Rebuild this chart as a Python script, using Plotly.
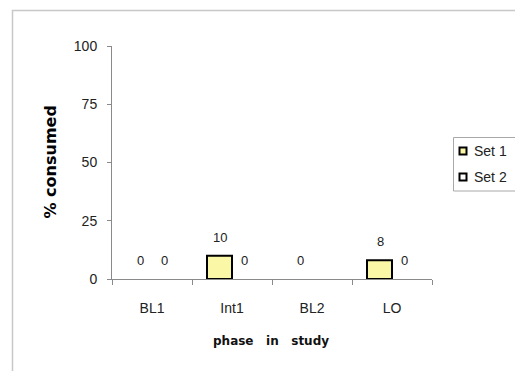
import plotly.graph_objects as go

phases = ["BL1", "Int1", "BL2", "LO"]
set1 = [0, 10, 0, 8]
set2 = [0, 0, None, 0]
y_ticks = [0, 25, 50, 75, 100]
series_names = ["Set 1", "Set 2"]
series_fill = ["#FAF7A6", "white"]

FONT = "Liberation Sans, Arial, sans-serif"
AXIS_GREY = "#8a8a8a"
W, H = 515, 371
M_L, M_R, M_T, M_B = 112, 83, 46, 92
PW, PH = W - M_L - M_R, H - M_T - M_B


def px_x(px):
    """figure pixel column -> paper x"""
    return (px - M_L) / PW


def px_y(py):
    """figure pixel row -> paper y"""
    return (H - M_B - py) / PH


fig = go.Figure()
for name, vals, fill in zip(series_names, (set1, set2), series_fill):
    # no outline on empty (zero) bars
    widths = [2 if (v or 0) > 0 else 0 for v in vals]
    fig.add_trace(go.Bar(name=name, x=phases, y=vals, showlegend=False,
                         marker=dict(color=fill, line=dict(color="black", width=widths))))

annotations = []
# value labels above each bar (Set 1 left, Set 2 right of category centre)
for values, shift in ((set1, -12), (set2, 12)):
    for cat, v in zip(phases, values):
        if v is None:
            continue
        annotations.append(dict(x=cat, y=v, xref="x", yref="y", text=str(v),
                                showarrow=False, xshift=shift, yshift=9,
                                yanchor="bottom", xanchor="center",
                                font=dict(family=FONT, size=13, color="#222")))

# axis titles
annotations.append(dict(x=px_x(50), y=0.5, xref="paper", yref="paper",
                        xanchor="center", yanchor="middle",
                        text="<b>% consumed</b>", textangle=-90, showarrow=False,
                        font=dict(family="DejaVu Sans, sans-serif", size=16, color="black")))
annotations.append(dict(x=px_x(271), y=px_y(341), xref="paper", yref="paper",
                        xanchor="center", yanchor="middle",
                        text="<b>phase\u00a0\u00a0\u00a0in\u00a0\u00a0\u00a0study</b>",
                        showarrow=False,
                        font=dict(family="DejaVu Sans, sans-serif", size=12, color="#111")))

# outer chart frame
shapes = [dict(type="rect", xref="paper", yref="paper",
               x0=px_x(12.5), x1=px_x(W + 20), y0=px_y(H + 20), y1=px_y(10.5),
               line=dict(color="#c8c8c8", width=1.5), layer="below")]

# legend box with square keys
shapes.append(dict(type="rect", xref="paper", yref="paper",
                   x0=px_x(453.5), x1=px_x(W + 10), y0=px_y(191), y1=px_y(137.5),
                   line=dict(color="#a8a8a8", width=1), fillcolor="white"))
for i, (name, fill) in enumerate(zip(series_names, series_fill)):
    cy = 151 + 26 * i
    shapes.append(dict(type="rect", xref="paper", yref="paper",
                       x0=px_x(459.5), x1=px_x(466.5), y0=px_y(cy + 3.5), y1=px_y(cy - 3.5),
                       line=dict(color="black", width=2), fillcolor=fill))
    annotations.append(dict(x=px_x(472), y=px_y(cy), xref="paper", yref="paper",
                            xanchor="left", yanchor="middle", text=name, showarrow=False,
                            font=dict(family=FONT, size=14, color="#222")))

fig.update_layout(
    width=W, height=H,
    margin=dict(l=M_L, r=M_R, t=M_T, b=M_B, autoexpand=False),
    paper_bgcolor="white", plot_bgcolor="white",
    barmode="group", bargap=0.375, bargroupgap=0,
    showlegend=False,
    annotations=annotations,
    shapes=shapes,
    xaxis=dict(showline=True, linecolor=AXIS_GREY, linewidth=1,
               ticks="outside", tickson="boundaries", ticklen=5, tickcolor=AXIS_GREY,
               showgrid=False, ticklabelstandoff=16,
               tickfont=dict(family=FONT, size=14, color="#222")),
    yaxis=dict(range=[0, 100], tickvals=y_ticks, showline=True, linecolor=AXIS_GREY,
               linewidth=1, ticks="outside", ticklen=4, tickcolor=AXIS_GREY,
               showgrid=False, zeroline=False, ticklabelstandoff=7,
               tickfont=dict(family=FONT, size=14, color="#222")),
)

fig.write_html("out.html")
